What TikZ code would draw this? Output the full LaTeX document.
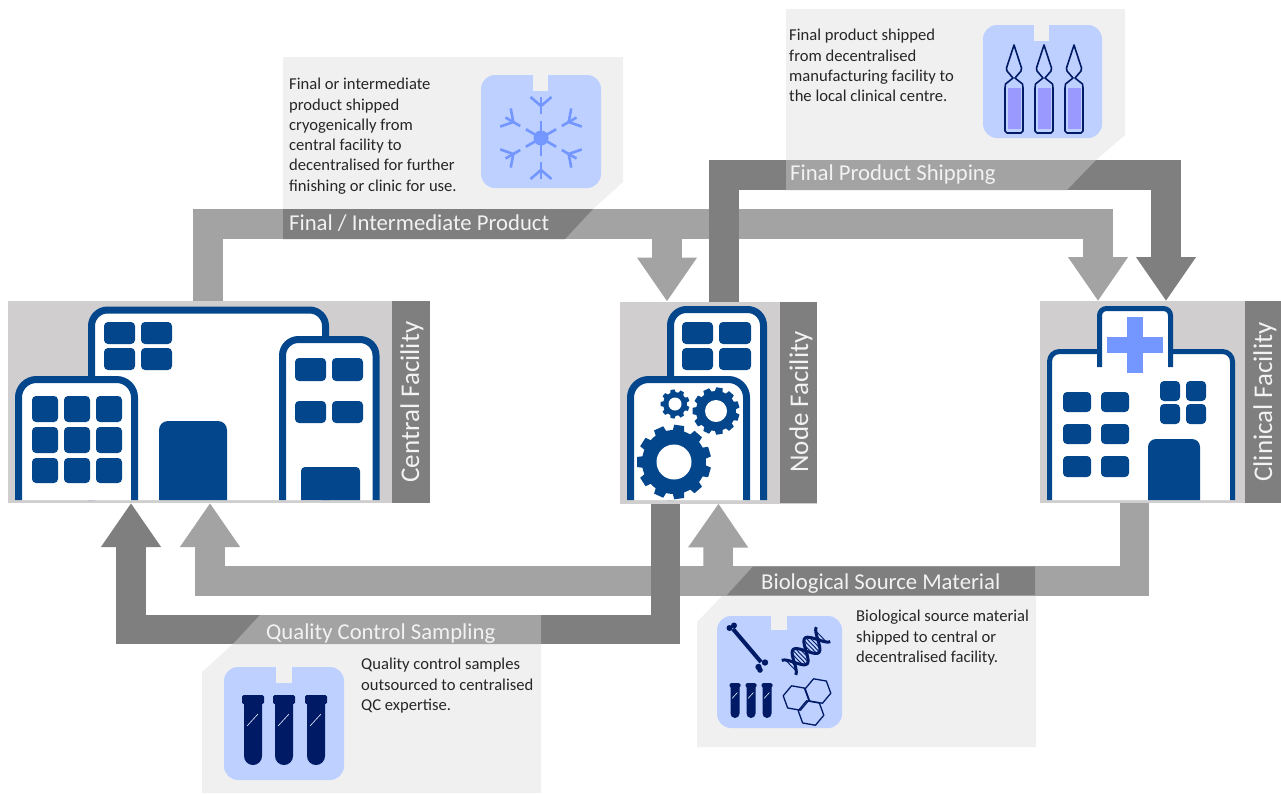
\documentclass[tikz,border=0pt]{standalone}
\usepackage{fontspec}
\setmainfont{Carlito}
\usetikzlibrary{arrows.meta,calc}
\definecolor{navy}{HTML}{03468C}
\definecolor{deep}{HTML}{001A66}
\definecolor{panelgrey}{HTML}{D0CECE}
\definecolor{darkflow}{HTML}{7F7F7F}
\definecolor{lightflow}{HTML}{A3A3A3}
\definecolor{cardbg}{HTML}{F0F0F0}
\definecolor{iconbg}{HTML}{BDD0FF}
\definecolor{accent}{HTML}{7396FF}
\definecolor{liquid}{HTML}{9999FF}
\tikzset{
  panel/.style={fill=panelgrey,minimum width=#1,minimum height=202pt,inner sep=0,outer sep=0,draw=none},
  sidebar/.style={fill=darkflow},
  sidetext/.style={rotate=90,text=white!95!black,font=\fontsize{27}{30}\selectfont,inner sep=0},
  flow/.style={line width=29.5pt,line join=miter,draw=#1,-{Triangle[length=44pt,width=57pt]}},
  card/.style={fill=cardbg},
  cardtext/.style={anchor=north west,align=left,inner sep=0,text=black!85,font=\fontsize{16.6}{20.3}\selectfont},
  labeltext/.style={anchor=base west,inner sep=0,text=white!95!black,font=\fontsize{22.7}{24}\selectfont},
  win/.style={fill=navy,rounded corners=4pt},
  bld/.style={fill=white,draw=navy,line join=round},
}
% building: x1, top, x2, line width, radius
\newcommand{\bldg}[5]{\path[bld,line width=#4pt,rounded corners=#5pt] (#1,500) -- (#1,#2) -- (#3,#2) -- (#3,500);}
\newcommand{\win}[4]{\fill[win] (#1,#2) rectangle (#3,#4);}
\newcommand{\door}[4][9]{\fill[navy] (#2,500) [rounded corners=#1pt] -- (#2,#3) -- (#4,#3) [sharp corners] -- (#4,500) -- cycle;}
% icon: x1,y1,x2,y2,notch x1,notch x2,notch y2
\newcommand{\iconbox}[7]{\fill[iconbg,rounded corners=14pt] (#1,#2) rectangle (#3,#4);\fill[cardbg] (#5,#2) rectangle (#6,#7);}
% gear: cx, cy, root R, tooth R, teeth, hole R, tooth half width
\newcommand{\gearshape}[7]{\begin{scope}[shift={(#1,#2)}]
  \fill[navy] (0,0) circle[radius=#3];
  \foreach \k in {1,...,#5}{\begin{scope}[rotate={(\k-0.5)*360/#5}]
    \fill[navy] (#3-1,-#7-0.8) -- (#4,-#7) -- (#4,#7) -- (#3-1,#7+0.8) -- cycle;\end{scope}}
  \fill[white] (0,0) circle[radius=#6];
\end{scope}}
% tube: cx, top, scale
\newcommand{\tube}[3]{\begin{scope}[shift={(#1,#2)},scale=#3]
  \fill[deep] (-9,7) -- (-9,61) arc[start angle=180,end angle=0,radius=9] -- (9,7) -- cycle;
  \fill[deep,rounded corners=1.5pt] (-11,0) rectangle (11,9);
  \draw[white!70!iconbg,line width=0.6pt] (-6,31) -- (5,19);
\end{scope}}
% ampoule: cx
\newcommand{\ampoule}[1]{\begin{scope}[shift={(#1,0)}]
  \fill[liquid] (-6.5,88) rectangle (6.5,129);
  \draw[deep,line width=1.6pt,line join=round] (0,45) -- (-7.5,68) -- (-7,71) -- (-1,78) -- (-8.5,84) -- (-9,88) -- (-9,131) -- (-7,133) -- (7,133) -- (9,131) -- (9,88) -- (8.5,84) -- (1,78) -- (7,71) -- (7.5,68) -- cycle;
\end{scope}}
\newcommand{\hexa}[2]{\draw[deep,line width=1.3pt,line join=round,shift={(#1,#2)}] (10:13) -- (70:13) -- (130:13) -- (190:13) -- (250:13) -- (310:13) -- cycle;}
\begin{document}
\begin{tikzpicture}[x=1pt,y=-1pt]
\useasboundingbox (0,0) rectangle (1281,793);
\fill[white] (0,0) rectangle (1281,793);

%% cards
\fill[card] (283,57) -- (623,57) -- (623,182) -- (593,209) -- (283,209) -- cycle;
\fill[card] (786,9) -- (1125,9) -- (1125,135) -- (1096,160) -- (786,160) -- cycle;
\fill[card] (233,644) -- (541,644) -- (541,793) -- (202,793) -- (202,672) -- cycle;
\fill[card] (723,595) -- (1036,595) -- (1036,747) -- (697,747) -- (697,622) -- cycle;

%% facility panels
\node[panel=422pt] (central) at (219,402) {};
\node[panel=197pt] (nodefac) at (718.5,402.5) {};
\node[panel=241pt] (clinical) at (1160.5,402) {};
\fill[sidebar] (392,301) rectangle (430,503);
\fill[sidebar] (780,302) rectangle (817,503);
\fill[sidebar] (1245,301) rectangle (1281,503);
\node[sidetext] (centrallabel) at (412,402) {Central Facility};
\node[sidetext] (nodelabel) at (801,402) {Node Facility};
\node[sidetext] (clinicallabel) at (1265,402) {Clinical Facility};

%% connectors
\coordinate (fiCorner) at (208,224);
\coordinate (fiNode) at (667,224);
\coordinate (fiClin) at (1098,224);
\draw[flow=lightflow] ([xshift=-11pt]central.north) -- (fiCorner) -- (fiClin) -- ([xshift=-62.5pt]clinical.north);
\draw[flow=lightflow] (fiNode) -- ([xshift=-51.5pt]nodefac.north);

\coordinate (fpA) at (724,175);
\coordinate (fpB) at (1166,175);
\draw[flow=darkflow] ([xshift=5.5pt]nodefac.north) -- (fpA) -- (fpB) -- ([xshift=5.5pt]clinical.north);

\coordinate (bioA) at (1134.5,581);
\coordinate (bioB) at (210,581);
\coordinate (bioC) at (718,581);
\draw[flow=lightflow] ([xshift=-26pt]clinical.south) -- (bioA) -- (bioB) -- ([xshift=-9pt]central.south);
\draw[flow=lightflow] (bioC) -- (nodefac.south);

\coordinate (qcA) at (665.5,629.5);
\coordinate (qcB) at (131,629.5);
\draw[flow=darkflow] ([xshift=-53pt]nodefac.south) -- (qcA) -- (qcB) -- ([xshift=-88pt]central.south);

%% label bands
\fill[darkflow] (283,209) -- (593,209) -- (565,239) -- (283,239) -- cycle;
\fill[lightflow] (786,160) -- (1096,160) -- (1067,190) -- (786,190) -- cycle;
\fill[lightflow] (260,615) -- (541,615) -- (541,644) -- (233,644) -- cycle;
\fill[darkflow] (753,566.5) -- (1035,566.5) -- (1035,595) -- (727,595) -- cycle;
\node[labeltext] (fiLabel) at (289,230) {Final / Intermediate Product};
\node[labeltext] (fpLabel) at (790,180) {Final Product Shipping};
\node[labeltext] (qcLabel) at (266,639) {Quality Control Sampling};
\node[labeltext] (bioLabel) at (761,589) {Biological Source Material};

%% card text
\node[cardtext] (fiText) at (289,78) {Final or intermediate\\product shipped\\cryogenically from\\central facility to\\decentralised for further\\finishing or clinic for use.};
\node[cardtext] (fpText) at (789,29) {Final product shipped\\from decentralised\\manufacturing facility to\\the local clinical centre.};
\node[cardtext] (qcText) at (361,658) {Quality control samples\\outsourced to centralised\\QC expertise.};
\node[cardtext] (bioText) at (856,610) {Biological source material\\shipped to central or\\decentralised facility.};

%% central facility building
\bldg{91.5}{310}{325.5}{7}{16}
\win{104}{322}{135}{344}\win{141}{322}{172}{344}
\win{104}{348}{135}{370}\win{141}{348}{172}{370}
\door{159}{421}{227}
\bldg{18.5}{379.5}{134.5}{7}{18}
\foreach \y/\z in {396/422,427/453,458/483}{
  \win{32}{\y}{58}{\z}\win{64}{\y}{90}{\z}\win{96}{\y}{122}{\z}}
\bldg{282.5}{339.5}{376}{7}{16}
\win{295}{358}{326}{381}\win{332}{358}{363}{381}
\win{295}{401}{326}{423}\win{332}{401}{363}{423}
\door[4]{301}{467}{360}

%% node facility building
\bldg{670.5}{309.5}{763.5}{7}{16}
\win{682}{322}{713}{344}\win{719}{322}{751}{344}
\win{682}{348}{713}{370}\win{719}{348}{751}{370}
\bldg{630.5}{379.5}{746.5}{7}{18}
\gearshape{674}{462}{32}{37}{11}{17.5}{5}
\gearshape{716}{411}{20}{23.5}{11}{11}{3.2}
\gearshape{675}{404}{12}{14.5}{9}{6.5}{2}

%% clinical building
\bldg{1049.5}{351.5}{1232.5}{5}{10}
\path[fill=white,draw=navy,line width=5pt,rounded corners=7pt] (1099.5,367) -- (1099.5,308.5) -- (1170.5,308.5) -- (1170.5,367);
\fill[accent] (1107,337) rectangle (1163,353);
\fill[accent] (1127,317) rectangle (1143,373);
\foreach \y/\z in {392/412,424/444,456/477}{
  \win{1063}{\y}{1091}{\z}\win{1101}{\y}{1129}{\z}}
\win{1160}{381}{1180}{401}\win{1186}{381}{1206}{401}
\win{1160}{404}{1180}{424}\win{1186}{404}{1206}{424}
\door[8]{1148}{439}{1200}

%% icon: snowflake
\iconbox{481}{75}{601}{188}{533}{548}{91}
\begin{scope}[shift={(541,138)}]
  \fill[accent] (0,0) circle[radius=7.5];
  \foreach \a in {30,90,150,210,270,330}{
    \begin{scope}[rotate=\a]
      \draw[accent,line width=2.6pt] (0,0) -- (17.5,0);
      \draw[accent,line width=2.6pt] (24,0) -- (41,0);
      \draw[accent,line width=2.6pt] (32,0) -- (41,-10.5);
      \draw[accent,line width=2.6pt] (32,0) -- (41,10.5);
    \end{scope}}
\end{scope}

%% icon: ampoules
\iconbox{983}{25}{1102}{138}{1034}{1049}{41}
\ampoule{1014}\ampoule{1044}\ampoule{1074}

%% icon: QC tubes
\iconbox{224}{667}{344}{780}{276}{292}{683}
\tube{253}{695}{1}\tube{284}{695}{1}\tube{316}{695}{1}

%% icon: biological material
\iconbox{717}{616}{842}{728}{771}{787}{630}
\draw[deep,line width=4pt] (733,629) -- (761,662);
\fill[deep] (729.5,628) circle[radius=3];\fill[deep] (734,625.5) circle[radius=3];
\fill[deep] (758.5,667) circle[radius=3.2];\fill[deep] (765,662.5) circle[radius=3.2];\fill[deep] (760,670) circle[radius=2.8];
\begin{scope}[shift={(806,651)},rotate=44]
  \foreach \t in {-21,-18,...,21}{\draw[deep,line width=0.9pt] ({\t},{10*sin(\t*11)}) -- ({\t},{-10*sin(\t*11)});}
  \draw[deep,line width=3pt] plot[domain=-24:24,samples=40,smooth] (\x,{10*sin(\x*11)});
  \draw[deep,line width=3pt] plot[domain=-24:24,samples=40,smooth] (\x,{-10*sin(\x*11)});
\end{scope}
\tube{735}{683}{0.5}\tube{751}{683}{0.5}\tube{767}{683}{0.5}
\hexa{818}{691}\hexa{796}{698}\hexa{811}{713}
\end{tikzpicture}
\end{document}
